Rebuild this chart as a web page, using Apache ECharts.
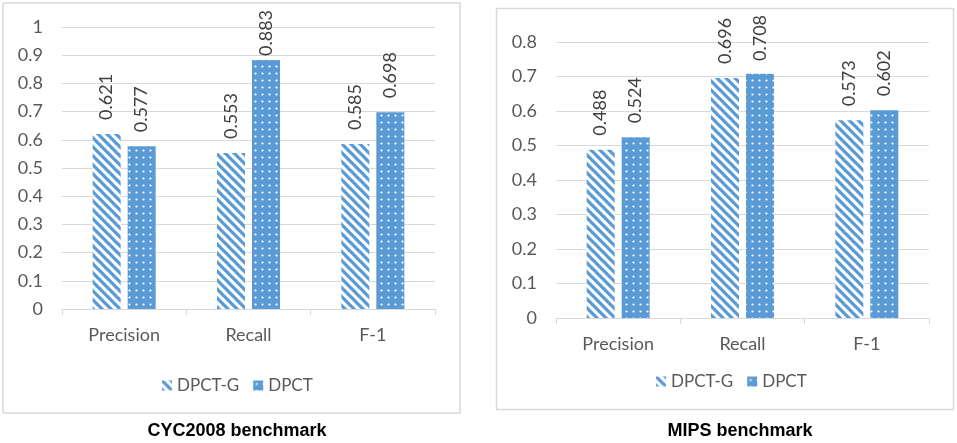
<!DOCTYPE html>
<html>
<head>
<meta charset="utf-8">
<script src="https://cdn.jsdelivr.net/npm/echarts@6/dist/echarts.min.js"></script>
<style>
  html, body { margin: 0; padding: 0; background: #fff; }
  #chart { width: 957px; height: 443px; }
</style>
</head>
<body>
<div id="chart"></div>
<script>
// values
var categories = ['Precision', 'Recall', 'F-1']
var seriesNames = ['DPCT-G', 'DPCT']
var cycDpctG = [0.621, 0.553, 0.585]
var cycDpct = [0.577, 0.883, 0.698]
var mipsDpctG = [0.488, 0.696, 0.573]
var mipsDpct = [0.524, 0.708, 0.602]
var panelTitles = ['CYC2008 benchmark', 'MIPS benchmark']
var yMax = [1, 0.8]

var blue = '#5b9bd5'
var font = 'Lato'

// "\" hatch, blue on white
function hatchTile () {
  var c = document.createElement('canvas')
  var s = 9
  c.width = s
  c.height = s
  var g = c.getContext('2d')
  g.fillStyle = '#fff'
  g.fillRect(0, 0, s, s)
  g.strokeStyle = blue
  g.lineWidth = 3.3
  g.beginPath()
  g.moveTo(-2, -2); g.lineTo(s + 2, s + 2)
  g.moveTo(-2, s - 2); g.lineTo(2, s + 2)
  g.moveTo(s - 2, -2); g.lineTo(s + 2, 2)
  g.stroke()
  return c
}

// white dots on blue
function dotTile () {
  var c = document.createElement('canvas')
  var s = 7
  c.width = s
  c.height = s
  var g = c.getContext('2d')
  g.fillStyle = blue
  g.fillRect(0, 0, s, s)
  g.fillStyle = '#fff'
  g.beginPath()
  g.arc(3.5, 3.5, 1.1, 0, Math.PI * 2)
  g.fill()
  return c
}

var hatchFill = { image: hatchTile(), repeat: 'repeat' }
var dotFill = { image: dotTile(), repeat: 'repeat' }

var grids = [
  { left: 62, top: 27, width: 373, height: 282 },
  { left: 556, top: 42, width: 373, height: 276 }
]
// top of each panel's frame, labels are kept below this
var frameTop = [12, 16]

function xAxis (i) {
  return {
    type: 'category',
    gridIndex: i,
    data: categories,
    axisLine: { lineStyle: { color: '#d9d9d9', width: 1 } },
    axisTick: { show: true, length: 6, lineStyle: { color: '#d9d9d9' } },
    axisLabel: { color: '#595959', fontFamily: font, fontSize: 18, margin: 17 }
  }
}

function yAxis (i) {
  return {
    type: 'value',
    gridIndex: i,
    min: 0,
    max: yMax[i],
    interval: 0.1,
    axisLine: { show: false },
    axisTick: { show: false },
    splitLine: { lineStyle: { color: '#d9d9d9', width: 1 } },
    axisLabel: { color: '#595959', fontFamily: font, fontSize: 18, margin: 19 }
  }
}

// like excel, a label that would run out of the frame is pulled down
function labelDistance (v, i) {
  var g = grids[i]
  var barTop = g.top + g.height * (1 - v / yMax[i])
  return Math.max(4, Math.min(14, barTop - 45 - frameTop[i]))
}

function bar (name, values, fill, i) {
  return {
    type: 'bar',
    name: name,
    xAxisIndex: i,
    yAxisIndex: i,
    data: values.map(function (v) {
      return { value: v, label: { distance: labelDistance(v, i) } }
    }),
    barWidth: 28,
    barGap: '25%',
    itemStyle: { color: fill },
    label: {
      show: true,
      position: 'top',
      rotate: 90,
      align: 'left',
      verticalAlign: 'middle',
      color: '#404040',
      fontFamily: font,
      fontSize: 18
    }
  }
}

function legend (left, top) {
  return {
    data: seriesNames,
    left: left,
    top: top,
    icon: 'rect',
    itemWidth: 10,
    itemHeight: 10,
    itemGap: 14,
    textStyle: { color: '#595959', fontFamily: font, fontSize: 17 }
  }
}

function title (text, x) {
  return {
    text: text,
    left: x,
    top: 422,
    textAlign: 'center',
    padding: 0,
    textStyle: { color: '#000', fontFamily: 'Liberation Sans', fontWeight: 'bold', fontSize: 18 }
  }
}

function frame (x, y, w, h) {
  return {
    type: 'rect',
    shape: { x: x, y: y, width: w, height: h },
    style: { fill: null, stroke: '#d9d9d9', lineWidth: 1.5 },
    z: -1
  }
}

var chart = echarts.init(document.getElementById('chart'))
chart.setOption({
  backgroundColor: '#fff',
  animation: false,
  title: [title(panelTitles[0], 237), title(panelTitles[1], 740)],
  legend: [legend(157, 372), legend(651, 368)],
  grid: grids,
  xAxis: [xAxis(0), xAxis(1)],
  yAxis: [yAxis(0), yAxis(1)],
  graphic: [frame(3, 3, 457, 410), frame(496.5, 8.5, 457, 401)],
  series: [
    bar(seriesNames[0], cycDpctG, hatchFill, 0),
    bar(seriesNames[1], cycDpct, dotFill, 0),
    bar(seriesNames[0], mipsDpctG, hatchFill, 1),
    bar(seriesNames[1], mipsDpct, dotFill, 1)
  ]
})
</script>
</body>
</html>
